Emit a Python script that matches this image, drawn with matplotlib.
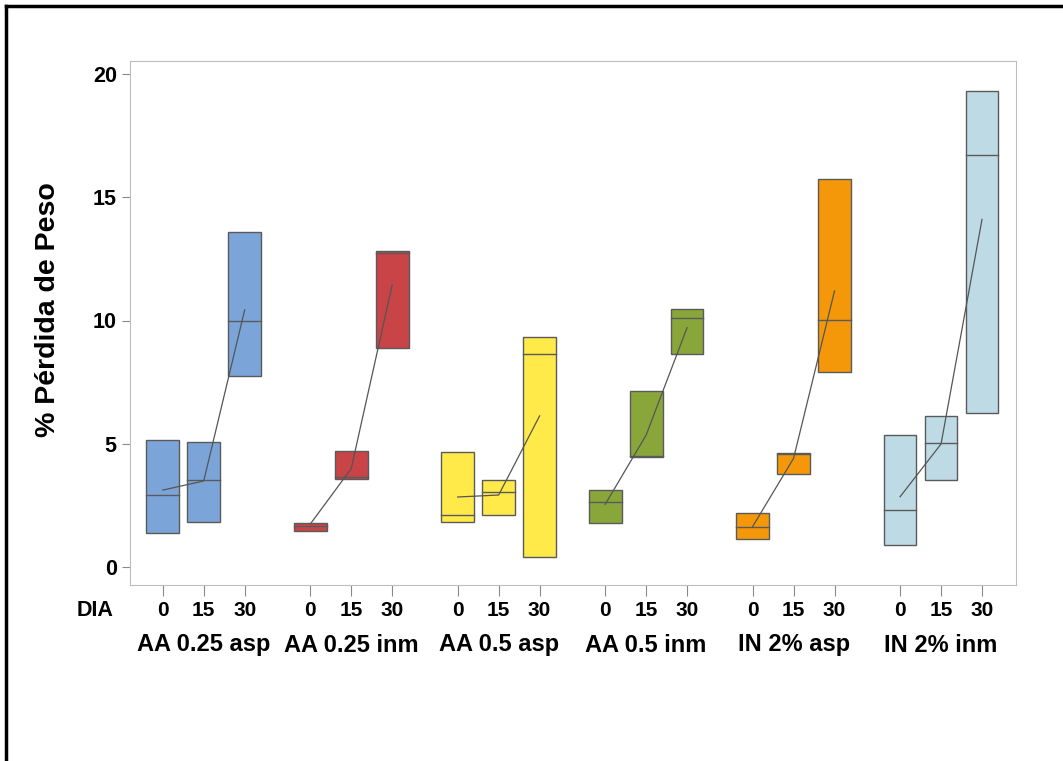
import matplotlib
matplotlib.use("Agg")
import matplotlib.pyplot as plt
from matplotlib.patches import Rectangle
from matplotlib.lines import Line2D

groups = ["AA 0.25 asp", "AA 0.25 inm", "AA 0.5 asp", "AA 0.5 inm", "IN 2% asp", "IN 2% inm"]
days = ["0", "15", "30"]
colors = ["#7BA5D8", "#C84446", "#FFEA4A", "#89A63A", "#F4980A", "#BEDBE5"]

q1 = [[1.37, 1.83, 7.75], [1.46, 3.56, 8.87], [1.83, 2.10, 0.39],
      [1.77, 4.48, 8.64], [1.14, 3.76, 7.90], [0.88, 3.53, 6.25]]
q3 = [[5.14, 5.06, 13.58], [1.77, 4.69, 12.83], [4.65, 3.53, 9.33],
      [3.11, 7.14, 10.45], [2.20, 4.64, 15.73], [5.34, 6.13, 19.32]]
med = [[2.91, 3.53, 9.97], [1.66, 3.65, 12.72], [2.10, 3.04, 8.64],
       [2.62, 4.50, 10.09], [1.61, 4.57, 10.03], [2.31, 5.02, 16.71]]
mean = [[3.12, 3.49, 10.43], [1.74, 3.99, 11.44], [2.84, 2.92, 6.13],
        [2.54, 5.35, 9.71], [1.64, 4.41, 11.20], [2.85, 4.99, 14.10]]

yticks = [0, 5, 10, 15, 20]
ylabel = "% Pérdida de Peso"

plt.rcParams["font.family"] = ["Liberation Sans", "DejaVu Sans"]

W, H = 1063, 761
fig = plt.figure(figsize=(W / 100, H / 100), dpi=100)
ax = fig.add_axes([130 / W, 1 - 585 / H, (1016 - 130) / W, (585 - 61) / H])

gap = 3.6
bw = 0.8
positions = []
for g in range(len(groups)):
    xs = [g * gap + d for d in range(3)]
    positions.append(xs)
    for d in range(3):
        x = xs[d]
        ax.add_patch(Rectangle((x - bw / 2, q1[g][d]), bw, q3[g][d] - q1[g][d],
                               facecolor=colors[g], edgecolor="#5a5a5a", lw=1.0, zorder=2))
        ax.plot([x - bw / 2, x + bw / 2], [med[g][d]] * 2, color="#5a5a5a", lw=1.0, zorder=3)
    ax.plot(xs, mean[g], color="#555555", lw=0.9, zorder=4)

ax.set_xlim(-0.8, (len(groups) - 1) * gap + 2 + 0.83)
y0 = -(585 - 567) / 24.65
y1 = 20 + (74 - 61) / 24.65
ax.set_ylim(y0, y1)

ax.set_yticks(yticks)
ax.set_yticklabels([str(t) for t in yticks], fontsize=15.5, fontweight="bold")
allx = [x for xs in positions for x in xs]
ax.set_xticks(allx)
ax.set_xticklabels([])
for s in ax.spines.values():
    s.set_color("#bdbdbd")
ax.tick_params(axis="both", colors="#8a8a8a", length=6, width=0.8, labelcolor="black")
ax.tick_params(axis="x", length=8)

fig.text(48 / W, 1 - 310 / H, ylabel, rotation=90, ha="center", va="center",
         fontsize=20.5, fontweight="bold")

trans = ax.get_xaxis_transform()
for g in range(len(groups)):
    for d in range(3):
        ax.text(positions[g][d], -(610 - 585) / (585 - 61), days[d], transform=trans,
                ha="center", va="center", fontsize=15, fontweight="bold")
    ax.text(positions[g][1], -(645 - 585) / (585 - 61), groups[g], transform=trans,
            ha="center", va="center", fontsize=17, fontweight="bold")
fig.text(95 / W, 1 - 610 / H, "DIA", ha="center", va="center", fontsize=15.5, fontweight="bold")

fig.add_artist(Line2D([6 / W, 6 / W], [0, 1 - 6 / H], color="black", lw=2.5,
                      transform=fig.transFigure))
fig.add_artist(Line2D([6 / W, 1], [1 - 6 / H, 1 - 6 / H], color="black", lw=2.5,
                      transform=fig.transFigure))

fig.savefig("out.png", dpi=100)
